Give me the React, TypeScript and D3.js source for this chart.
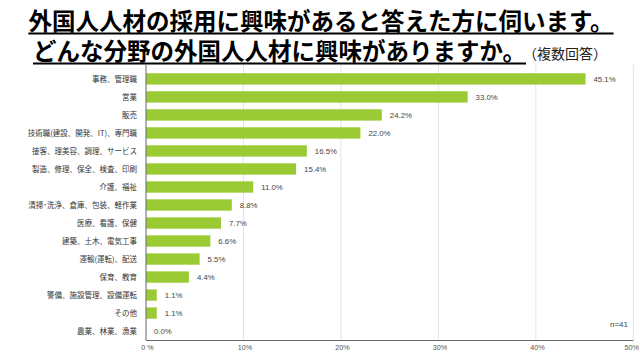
import React, { useEffect, useRef } from "react";
import * as d3 from "d3";

const categories = [
  "事務、管理職",
  "営業",
  "販売",
  "技術職(建設、開発、IT)、専門職",
  "接客、理美容、調理、サービス",
  "製造、修理、保全、検査、印刷",
  "介護、福祉",
  "清掃･洗浄、倉庫、包装、軽作業",
  "医療、看護、保健",
  "建築、土木、電気工事",
  "運輸(運転)、配送",
  "保育、教育",
  "警備、施設管理、設備運転",
  "その他",
  "農業、林業、漁業",
];
const values = [45.1, 33.0, 24.2, 22.0, 16.5, 15.4, 11.0, 8.8, 7.7, 6.6, 5.5, 4.4, 1.1, 1.1, 0.0];
const tickValues = [0, 10, 20, 30, 40, 50];
const tickLabels = ["0 %", "10%", "20%", "30%", "40%", "50%"];
const titleLine1 = "外国人人材の採用に興味があると答えた方に伺います。";
const titleLine2 = "どんな分野の外国人人材に興味がありますか。";
const titleNote = "（複数回答）";
const sampleNote = "n=41";

const W = 640;
const H = 360;
const FONT = "'Liberation Sans', 'Noto Sans CJK JP', sans-serif";
const JFONT = "'Noto Sans CJK JP', sans-serif";

export default function App() {
  const ref = useRef<SVGSVGElement>(null);

  useEffect(() => {
    const svg = d3.select(ref.current);
    svg.selectAll("*").remove();

    const x = d3.scaleLinear().domain([0, 50]).range([146, 633.3]);
    const y = d3.scaleBand<string>().domain(categories).range([70, 340]).paddingInner(0.37).paddingOuter(0.18);

    // title
    const t1 = svg
      .append("text")
      .attr("x", 321)
      .attr("y", 29.5)
      .attr("text-anchor", "middle")
      .attr("font-family", JFONT)
      .attr("font-weight", 700)
      .attr("font-size", 23.5)
      .attr("fill", "#000")
      .text(titleLine1);
    const b1 = (t1.node() as SVGTextElement).getBBox();
    svg.append("rect").attr("x", b1.x).attr("y", 32.5).attr("width", b1.width).attr("height", 2).attr("fill", "#000");

    const start2 = 33;
    const t2 = svg
      .append("text")
      .attr("x", start2)
      .attr("y", 59.5)
      .attr("font-family", JFONT)
      .attr("font-weight", 700)
      .attr("font-size", 23.5)
      .attr("fill", "#000")
      .text(titleLine2);
    const w2 = (t2.node() as SVGTextElement).getComputedTextLength();
    svg
      .append("text")
      .attr("x", start2 + w2 - 3)
      .attr("y", 59)
      .attr("font-family", JFONT)
      .attr("font-size", 14)
      .attr("fill", "#222")
      .text(titleNote);
    svg.append("rect").attr("x", start2).attr("y", 62.5).attr("width", w2).attr("height", 2).attr("fill", "#000");

    // gridlines
    svg
      .append("g")
      .selectAll("line")
      .data(tickValues.slice(1))
      .join("line")
      .attr("x1", (d) => x(d))
      .attr("x2", (d) => x(d))
      .attr("y1", 65)
      .attr("y2", 340)
      .attr("stroke", "#e3e3e3")
      .attr("stroke-width", 1);

    // bars
    svg
      .append("g")
      .selectAll("rect")
      .data(values)
      .join("rect")
      .attr("x", x(0))
      .attr("y", (_, i) => y(categories[i])!)
      .attr("width", (d) => x(d) - x(0))
      .attr("height", y.bandwidth())
      .attr("fill", "#9acb34");

    // value labels
    svg
      .append("g")
      .selectAll("text")
      .data(values)
      .join("text")
      .attr("x", (d) => x(d) + 8)
      .attr("y", (_, i) => y(categories[i])! + y.bandwidth() / 2)
      .attr("dy", "0.35em")
      .attr("font-family", FONT)
      .attr("font-size", 7.8)
      .attr("fill", "#444")
      .text((d) => d.toFixed(1) + "%");

    // category labels
    svg
      .append("g")
      .selectAll("text")
      .data(categories)
      .join("text")
      .attr("x", 137)
      .attr("y", (d) => y(d)! + y.bandwidth() / 2)
      .attr("dy", "0.35em")
      .attr("text-anchor", "end")
      .attr("font-family", JFONT)
      .attr("font-size", 7.5)
      .attr("fill", "#333")
      .text((d) => d);

    // axes lines
    svg.append("line").attr("x1", 146).attr("x2", 146).attr("y1", 65).attr("y2", 340).attr("stroke", "#666").attr("stroke-width", 1);
    svg.append("line").attr("x1", 146).attr("x2", x(50)).attr("y1", 340.5).attr("y2", 340.5).attr("stroke", "#666").attr("stroke-width", 1);

    // tick labels
    svg
      .append("g")
      .selectAll("text")
      .data(tickValues)
      .join("text")
      .attr("x", (d, i) => (i === tickValues.length - 1 ? x(d) + 5.5 : x(d) + 1.5))
      .attr("y", 350)
      .attr("text-anchor", (_, i) => (i === tickValues.length - 1 ? "end" : "middle"))
      .attr("font-family", FONT)
      .attr("font-size", 7.2)
      .attr("fill", "#555")
      .text((_, i) => tickLabels[i]);

    svg
      .append("text")
      .attr("x", 628)
      .attr("y", 327)
      .attr("text-anchor", "end")
      .attr("font-family", FONT)
      .attr("font-size", 8)
      .attr("fill", "#444")
      .text(sampleNote);
  }, []);

  return (
    <svg
      ref={ref}
      width={W}
      height={H}
      style={{ position: "absolute", left: 0, top: 0, background: "#fff" }}
    />
  );
}
